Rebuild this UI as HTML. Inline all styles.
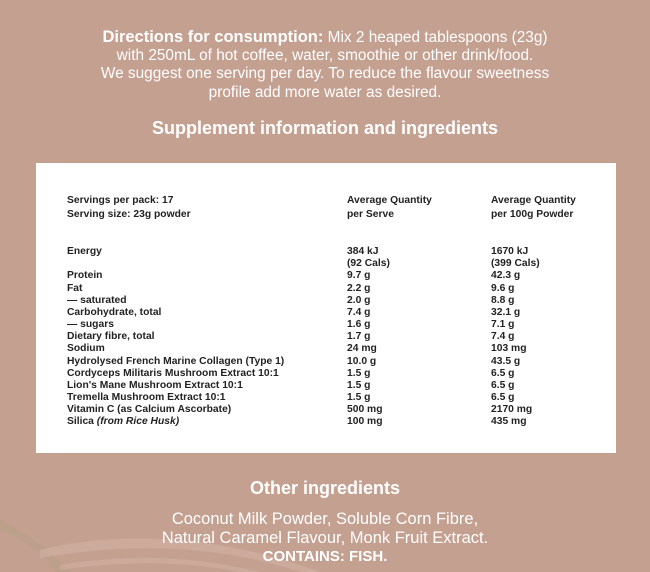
<!DOCTYPE html>
<html><head><style>
body{margin:0;width:650px;height:572px;background:#c4a091;font-family:"Liberation Sans",sans-serif;color:#fff;position:relative;overflow:hidden}
.c{position:absolute;left:0;width:650px;text-align:center;white-space:nowrap}
.box{position:absolute;left:36px;top:163px;width:580px;height:290px;background:#fff}
.t{position:absolute;color:#222;font-size:10.3px;font-weight:bold;line-height:12.17px;white-space:nowrap}
</style></head><body>
<svg style="position:absolute;left:0;top:480px" width="330" height="92"><path d="M0,40 C40,60 60,80 70,92 L55,92 C45,75 25,60 0,50Z" fill="#b9a08a" opacity=".7"/><path d="M40,70 C120,50 220,55 320,92 L300,92 C220,65 130,62 40,78Z" fill="#d2b2a5" opacity=".6"/><path d="M60,85 C140,72 200,78 260,92 L240,92 C190,82 130,80 60,90Z" fill="#d2b2a5" opacity=".5"/></svg>
<div class="c" style="top:28px;font-size:15.4px;line-height:18.2px"><b style="font-size:16.5px">Directions for consumption:</b> Mix 2 heaped tablespoons (23g)<br>with 250mL of hot coffee, water, smoothie or other drink/food.<br>We suggest one serving per day. To reduce the flavour sweetness<br>profile add more water as desired.</div>
<div class="c" style="top:118px;font-size:18px;font-weight:bold">Supplement information and ingredients</div>
<div class="box"></div>
<div class="t" style="left:67px;top:194px;line-height:13.5px">Servings per pack: 17<br>Serving size: 23g powder</div>
<div class="t" style="left:347px;top:194px;line-height:13.5px">Average Quantity<br>per Serve</div>
<div class="t" style="left:491px;top:194px;line-height:13.5px">Average Quantity<br>per 100g Powder</div>
<div class="t" style="left:67px;top:246px">Energy<br><br>Protein<br>Fat<br>— saturated<br>Carbohydrate, total<br>— sugars<br>Dietary fibre, total<br>Sodium<br>Hydrolysed French Marine Collagen (Type 1)<br>Cordyceps Militaris Mushroom Extract 10:1<br>Lion's Mane Mushroom Extract 10:1<br>Tremella Mushroom Extract 10:1<br>Vitamin C (as Calcium Ascorbate)<br>Silica <i>(from Rice Husk)</i></div>
<div class="t" style="left:347px;top:246px">384 kJ<br>(92 Cals)<br>9.7 g<br>2.2 g<br>2.0 g<br>7.4 g<br>1.6 g<br>1.7 g<br>24 mg<br>10.0 g<br>1.5 g<br>1.5 g<br>1.5 g<br>500 mg<br>100 mg</div>
<div class="t" style="left:491px;top:246px">1670 kJ<br>(399 Cals)<br>42.3 g<br>9.6 g<br>8.8 g<br>32.1 g<br>7.1 g<br>7.4 g<br>103 mg<br>43.5 g<br>6.5 g<br>6.5 g<br>6.5 g<br>2170 mg<br>435 mg</div>
<div class="c" style="top:478px;font-size:18px;font-weight:bold">Other ingredients</div>
<div class="c" style="top:510px;font-size:16.5px;line-height:18.7px">Coconut Milk Powder, Soluble Corn Fibre,<br>Natural Caramel Flavour, Monk Fruit Extract.<br><b style="font-size:15px">CONTAINS: FISH.</b></div>
</body></html>
